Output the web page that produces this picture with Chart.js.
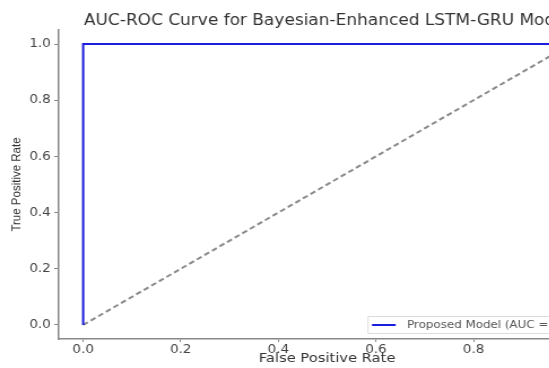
<!DOCTYPE html>
<html>
<head>
<meta charset="utf-8">
<script src="https://cdn.jsdelivr.net/npm/chart.js@4.4.1/dist/chart.umd.min.js"></script>
<style>
  html, body { margin: 0; padding: 0; background: #fff; overflow: hidden; }
  /* the source picture is stretched sideways, so the canvas is too */
  #wrap { width: 575px; height: 368px; transform: scaleX(1.13); transform-origin: 0 0; }
</style>
</head>
<body>
<div id="wrap"><canvas id="chart" width="575" height="368"></canvas></div>
<script>
// ROC curve of the proposed model (fpr / tpr pairs)
const rocFpr = [0, 0, 1];
const rocTpr = [0, 1, 1];

// chance diagonal
const chanceFpr = [0, 1];
const chanceTpr = [0, 1];

const xTicks = [0, 0.2, 0.4, 0.6, 0.8, 1.0];
const yTicks = [0, 0.2, 0.4, 0.6, 0.8, 1.0];

const legendLabel = 'Proposed Model (AUC = 1.00)';
const FONT = "'DejaVu Sans', sans-serif";

function toPoints(xs, ys) {
  return xs.map((x, i) => ({ x, y: ys[i] }));
}

// matplotlib-like legend box drawn inside the lower right of the plot
const innerLegend = {
  id: 'innerLegend',
  afterDraw(chart) {
    const { ctx, chartArea } = chart;
    const ds = chart.data.datasets[0];
    ctx.save();
    ctx.font = '10.5px ' + FONT;
    const textW = ctx.measureText(ds.label).width;
    const h = 17;
    const w = 4 + 21 + 10 + textW + 5;
    const right = chartArea.right - 6;
    const bottom = chartArea.bottom - 6;
    const left = right - w;
    const top = bottom - h;
    ctx.fillStyle = 'rgba(255,255,255,0.85)';
    ctx.strokeStyle = '#dcdcdc';
    ctx.lineWidth = 1;
    ctx.beginPath();
    ctx.rect(left + 0.5, top + 0.5, w, h);
    ctx.fill();
    ctx.stroke();
    const cy = top + h / 2 + 0.5;
    ctx.strokeStyle = ds.borderColor;
    ctx.lineWidth = 2;
    ctx.beginPath();
    ctx.moveTo(left + 4, cy);
    ctx.lineTo(left + 25, cy);
    ctx.stroke();
    ctx.fillStyle = '#555';
    ctx.textBaseline = 'middle';
    ctx.fillText(ds.label, left + 35, cy + 0.5);
    ctx.restore();
  }
};

new Chart(document.getElementById('chart'), {
  type: 'line',
  data: {
    datasets: [
      {
        label: legendLabel,
        data: toPoints(rocFpr, rocTpr),
        borderColor: '#1c1ce0',
        borderWidth: 2,
        pointRadius: 0,
        tension: 0,
      },
      {
        label: 'Chance',
        data: toPoints(chanceFpr, chanceTpr),
        borderColor: '#8a8a8a',
        borderWidth: 2,
        borderDash: [5, 3],
        pointRadius: 0,
        tension: 0,
      },
    ],
  },
  options: {
    responsive: false,
    animation: false,
    layout: { padding: { left: 0, right: 48, top: 0, bottom: 0 } },
    plugins: {
      legend: { display: false },
      tooltip: { enabled: false },
      title: {
        display: true,
        fullSize: false,
        text: 'AUC-ROC Curve for Bayesian-Enhanced LSTM-GRU Model',
        color: '#333',
        font: { family: FONT, size: 15, weight: 'normal' },
        padding: { top: 12, bottom: 0 },
      },
    },
    scales: {
      x: {
        type: 'linear',
        min: -0.05,
        max: 1.05,
        afterBuildTicks: (scale) => { scale.ticks = xTicks.map((v) => ({ value: v })); },
        afterFit: (scale) => { scale.height = 29; },
        grid: { drawOnChartArea: false, drawTicks: true, tickLength: 3, color: '#888' },
        border: { display: true, color: '#888', width: 1.5 },
        ticks: {
          color: '#444',
          padding: 1,
          font: { family: FONT, size: 12 },
          callback: (v) => Number(v).toFixed(1),
        },
        title: {
          display: true,
          text: 'False Positive Rate',
          color: '#333',
          font: { family: FONT, size: 13 },
          padding: { top: 0, bottom: 2 },
        },
      },
      y: {
        type: 'linear',
        min: -0.05,
        max: 1.05,
        afterBuildTicks: (scale) => { scale.ticks = yTicks.map((v) => ({ value: v })); },
        afterFit: (scale) => { scale.width = 52; },
        grid: { drawOnChartArea: false, drawTicks: true, tickLength: 4, color: '#888' },
        border: { display: true, color: '#888', width: 1.5 },
        ticks: {
          color: '#444',
          padding: 3,
          font: { family: FONT, size: 12 },
          callback: (v) => Number(v).toFixed(1),
        },
        title: {
          display: true,
          text: 'True Positive Rate',
          color: '#333',
          font: { family: "'Liberation Sans', Arial, sans-serif", size: 11.5 },
          padding: { top: 8, bottom: 0 },
        },
      },
    },
  },
  plugins: [innerLegend],
});
</script>
</body>
</html>
